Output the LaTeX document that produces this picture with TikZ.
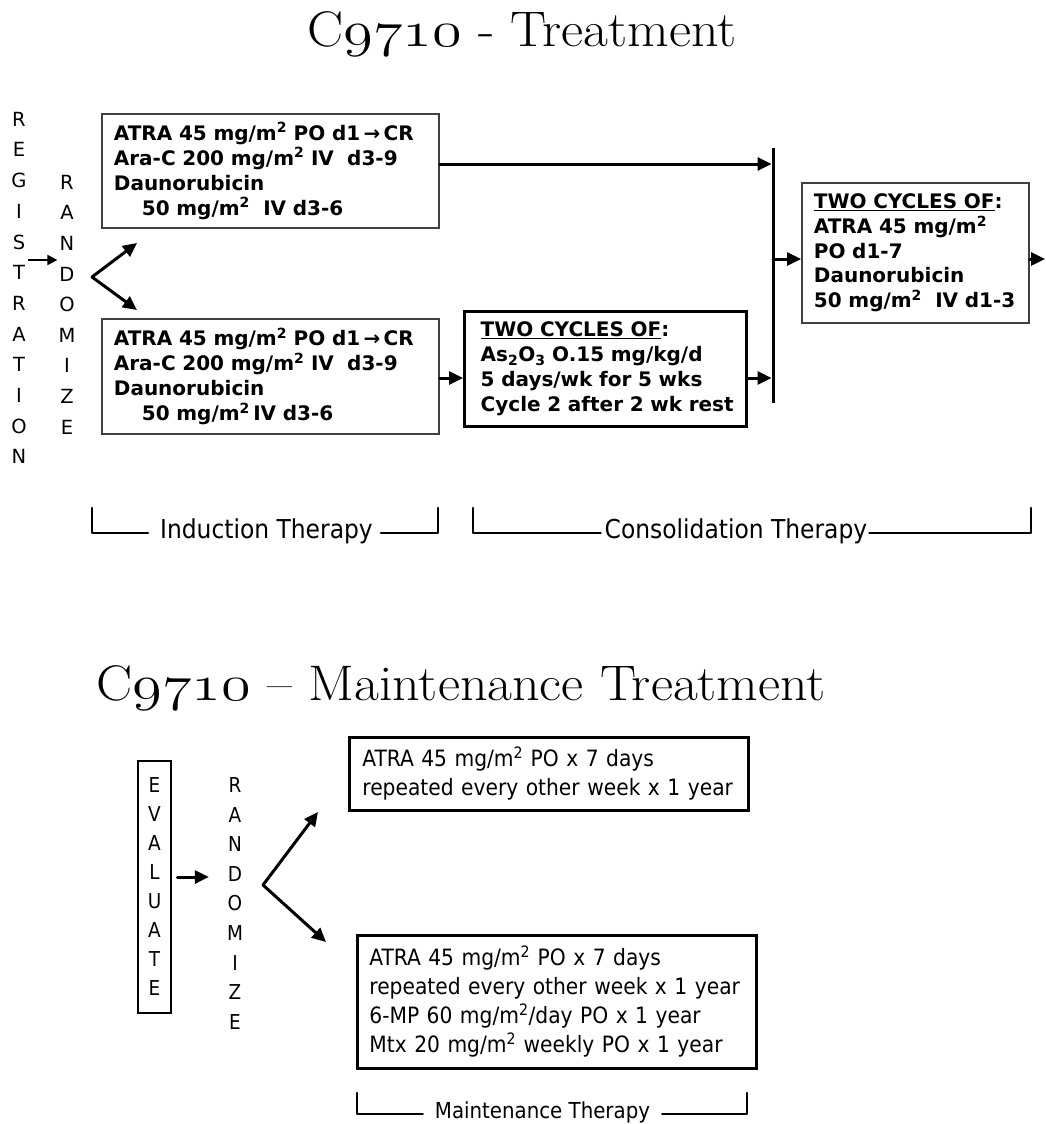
\RequirePackage{fix-cm}
\documentclass[tikz,border=0pt]{standalone}
\usepackage{fontspec}
\usepackage{graphicx}
\usetikzlibrary{arrows.meta}
\newfontfamily\verd{DejaVu Sans}
\newfontfamily\tah{DejaVu Sans Condensed}
\newcommand\osnum[1]{{\fontencoding{OML}\fontfamily{cmm}\fontseries{m}\fontshape{it}\selectfont #1}}
\newcommand\sqm{m\textsuperscript{2}}
\newcommand\ttltext[1]{\scalebox{1.08}[1]{C\scalebox{1.12}[1]{\osnum{9710}}#1}}
\begin{document}
\begin{tikzpicture}[x=1pt,y=-1pt,
  arr/.style={-{Triangle[length=14pt,width=13pt]}, line width=3pt, line cap=round},
  sarr/.style={-{Triangle[length=10pt,width=10pt]}, line width=2pt},
  tbox/.style={draw=black!75, line width=1.8pt, inner ysep=0pt, align=left, anchor=north west,
    font=\verd\bfseries\fontsize{20}{25}\selectfont},
  mbox/.style={draw=black, line width=2.8pt, inner ysep=0pt, align=left, anchor=north west,
    font=\tah\fontsize{22.5}{29}\selectfont},
  stack/.style={align=center, inner sep=1pt},
  brk/.style={line width=2.6pt, line join=round, line cap=round},
  lab/.style={anchor=base, inner sep=0pt, font=\tah\fontsize{26}{30}\selectfont},
  ttl/.style={inner sep=0pt, font=\fontsize{50}{60}\selectfont}]
\useasboundingbox[fill=white] (0,0) rectangle (1046,1124);

% ---------- top title
\node[ttl, anchor=base] (t1) at (522,47) {\ttltext{ - Treatment}};

% ---------- registration / randomize
\node[stack, font=\verd\fontsize{19.5}{30.7}\selectfont] (reg) at (19,288)
  {R\\E\\G\\I\\S\\T\\R\\A\\T\\I\\O\\N};
\node[stack, font=\verd\fontsize{19.5}{30.6}\selectfont] (rnd) at (67,304.5)
  {R\\A\\N\\D\\O\\M\\I\\Z\\E};
\draw[sarr] (reg.east |- 0,260) -- (rnd.west |- 0,260);

\coordinate (f1) at (92,277);
\coordinate (f1u) at (137,243);
\coordinate (f1d) at (137,310);
\draw[arr] (f1) -- (f1u);
\draw[arr] (f1) -- (f1d);

% ---------- induction boxes
\node[tbox, minimum width=337pt, minimum height=114pt, text width=313pt, inner xsep=12pt] (b1) at (101,113)
  {\mbox{ATRA 45 mg/\sqm{} PO d1\,→\,CR}\\\mbox{Ara-C 200 mg/\sqm{} IV\ \ d3-9}\\Daunorubicin\\\mbox{\hspace*{28pt}50 mg/\sqm\ \ IV d3-6}};
\node[tbox, minimum width=337pt, minimum height=115pt, text width=313pt, inner xsep=12pt] (b2) at (101,318)
  {\mbox{ATRA 45 mg/\sqm{} PO d1\,→\,CR}\\\mbox{Ara-C 200 mg/\sqm{} IV\ \ d3-9}\\Daunorubicin\\\mbox{\hspace*{28pt}50 mg/\sqm\,IV d3-6}};

% ---------- consolidation
\node[tbox, draw=black, line width=3.4pt, minimum width=282pt, minimum height=115pt, text width=250pt, inner xsep=16pt] (b3) at (463,310)
  {\mbox{\underline{TWO CYCLES OF}:}\\\mbox{As\textsubscript{2}O\textsubscript{3} O.15 mg/kg/d}\\\mbox{5 days/wk for 5 wks}\\\mbox{Cycle 2 after 2 wk rest}};
\node[tbox, minimum width=227pt, minimum height=140pt, text width=203pt, inner xsep=12pt,
  font=\verd\bfseries\fontsize{20}{24.75}\selectfont] (b4) at (801,182)
  {\mbox{\underline{TWO CYCLES OF}:}\\\mbox{ATRA 45 mg/\sqm}\\PO d1-7\\Daunorubicin\\\mbox{50 mg/\sqm\ \ IV d1-3}};

\coordinate (vt) at (773,148);
\coordinate (vb) at (773,403);
\draw[line width=3pt] (vt) -- (vb);

\draw[arr, shorten >=1.5pt] (b1.east |- 0,164) -- (vt |- 0,164);
\draw[arr] (b2.east |- 0,378) -- (b3.west |- 0,378);
\draw[arr, shorten >=1.5pt] (b3.east |- 0,378) -- (vt |- 0,378);
\draw[arr] (vt |- 0,259) -- (b4.west |- 0,259);
\coordinate (out) at (1045,259);
\draw[arr] (b4.east |- 0,259) -- (out);

% ---------- brackets
\coordinate (i1) at (92,508);
\coordinate (i2) at (438,508);
\node[lab] (ind) at (266.5,538) {Induction Therapy};
\draw[brk] (i1) -- (i1 |- 0,533) -- ([xshift=-12pt]ind.west |- 0,533);
\draw[brk] ([xshift=8pt]ind.east |- 0,533) -- (i2 |- 0,533) -- (i2);

\coordinate (c1) at (473,508);
\coordinate (c2) at (1031,508);
\node[lab] (cons) at (736,538) {Consolidation Therapy};
\draw[brk] (c1) -- (c1 |- 0,533) -- ([xshift=-4pt]cons.west |- 0,533);
\draw[brk] ([xshift=2pt]cons.east |- 0,533) -- (c2 |- 0,533) -- (c2);

% ---------- maintenance title
\node[ttl, anchor=base east] (t2) at (826,700) {\ttltext{ – Maintenance Treatment}};

\node[stack, draw, line width=2.8pt, minimum width=33pt, minimum height=252pt,
  font=\tah\fontsize{20.5}{29}\selectfont] (ev) at (154.5,887) {E\\V\\A\\L\\U\\A\\T\\E};
\node[stack, font=\tah\fontsize{20.5}{29.6}\selectfont] (rnd2) at (235,903.5)
  {R\\A\\N\\D\\O\\M\\I\\Z\\E};
\draw[arr, shorten <=5pt, shorten >=17pt] (ev.east |- 0,877) -- (rnd2.west |- 0,877);

\coordinate (f2) at (263,885);
\coordinate (f2u) at (318,812);
\coordinate (f2d) at (326,942);
\draw[arr] (f2) -- (f2u);
\draw[arr] (f2) -- (f2d);

\node[mbox, minimum width=399pt, minimum height=73pt, text width=373pt, inner xsep=13pt] (m1) at (348,736)
  {\mbox{ATRA 45 mg/\sqm{} PO x 7 days}\\\mbox{repeated every other week x 1 year}};
\node[mbox, minimum width=399pt, minimum height=133pt, text width=375pt, inner xsep=12pt] (m2) at (356,934)
  {\mbox{ATRA 45 mg/\sqm{} PO x 7 days}\\\mbox{repeated every other week x 1 year}\\\mbox{6-MP 60 mg/\sqm/day PO x 1 year}\\\mbox{Mtx 20 mg/\sqm{} weekly PO x 1 year}};

\coordinate (n1) at (357,1093);
\coordinate (n2) at (747,1093);
\node[lab, font=\tah\fontsize{22}{26}\selectfont] (mnt) at (542.5,1118) {Maintenance Therapy};
\draw[brk] (n1) -- (n1 |- 0,1114) -- ([xshift=-12pt]mnt.west |- 0,1114);
\draw[brk] ([xshift=12pt]mnt.east |- 0,1114) -- (n2 |- 0,1114) -- (n2);
\end{tikzpicture}
\end{document}
